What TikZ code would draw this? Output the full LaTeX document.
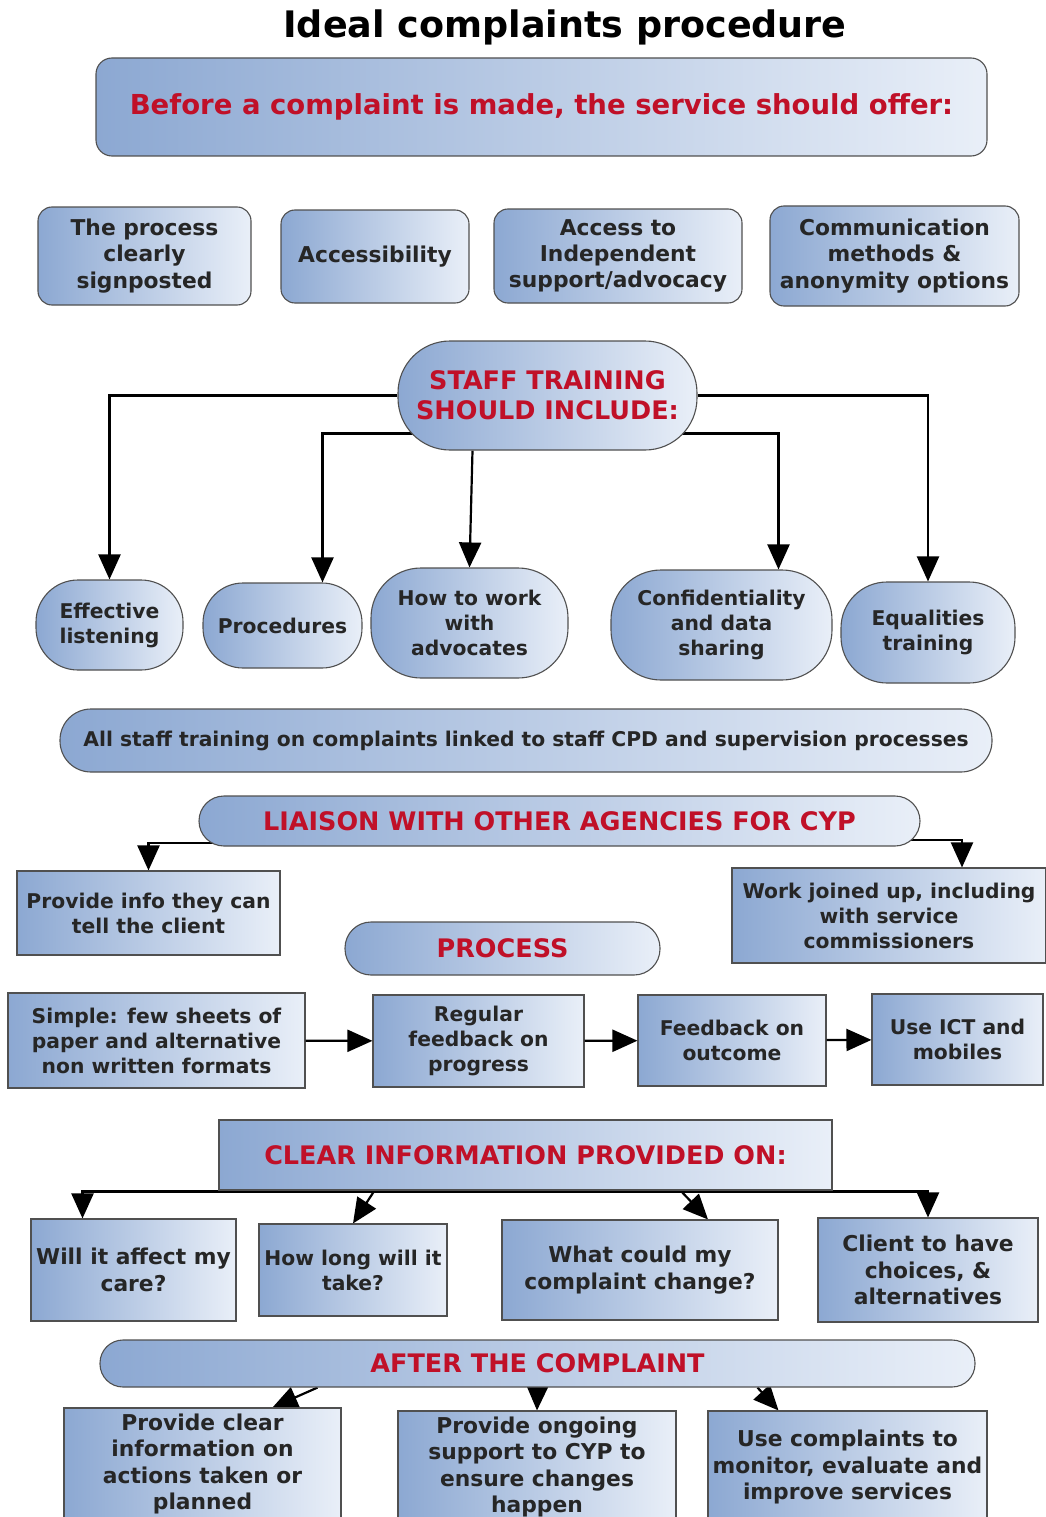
\documentclass[tikz,border=0pt]{standalone}
\usepackage{fontspec}
\setmainfont{DejaVu Sans}
\usepackage{xcolor}
\usetikzlibrary{arrows.meta,positioning,backgrounds}
\definecolor{boxL}{RGB}{140,168,210}
\definecolor{boxR}{RGB}{233,239,248}
\definecolor{headred}{RGB}{192,16,40}
\definecolor{edge}{RGB}{80,80,80}

\begin{document}
\begin{tikzpicture}[
  x=1pt, y=-1pt,
  base/.style={draw=edge, line width=1.1pt, left color=boxL, right color=boxR,
               align=center, inner sep=2pt, text=black!85,
               font=\fontsize{20.3}{25}\selectfont\bfseries},
  big/.style={font=\fontsize{21.8}{26.4}\selectfont\bfseries},
  rbox/.style={base, big, rounded corners=14pt},
  oval/.style={base, rounded corners=40pt},
  pill/.style={base, rounded corners=23pt},
  sbox/.style={base},
  head/.style={text=headred, font=\fontsize{25.5}{30}\selectfont\bfseries},
  arr/.style={-{Triangle[length=25pt,width=22pt]}, line width=2.2pt}
]
\useasboundingbox (0,0) rectangle (1046,1517);

% title and first block
\node[font=\fontsize{36.5}{42}\selectfont\bfseries] (title) at (565,27) {Ideal complaints procedure};
\node[rbox, head, font=\fontsize{27.5}{32}\selectfont\bfseries, minimum width=891pt, minimum height=98pt,
      rounded corners=16pt] (offer) at (541.5,107)
  {Before a complaint is made, the service should offer:};

\node[rbox, minimum width=213pt, minimum height=98pt] (signpost) at (144.5,256) {The process\\clearly\\signposted};
\node[rbox, minimum width=188pt, minimum height=93pt] (access) at (375,256.5) {Accessibility};
\node[rbox, minimum width=248pt, minimum height=94pt] (advocacy) at (618,256) {Access to\\Independent\\support/advocacy};
\node[rbox, minimum width=249pt, minimum height=100pt] (comms) at (894.5,256) {Communication\\methods \&\\anonymity options};

% staff training
\node[oval, head, minimum width=299pt, minimum height=109pt, rounded corners=52pt] (staff) at (547.5,395.5)
  {STAFF TRAINING\\SHOULD INCLUDE:};
\node[oval, minimum width=147pt, minimum height=90pt, rounded corners=42pt] (listen) at (109.5,625) {Effective\\listening};
\node[oval, minimum width=159pt, minimum height=85pt] (proc) at (282.5,625.5) {Procedures};
\node[oval, minimum width=197pt, minimum height=110pt, rounded corners=50pt] (advoc) at (469.5,623) {How to work\\with\\advocates};
\node[oval, minimum width=221pt, minimum height=110pt, rounded corners=50pt] (confid) at (721.5,625) {Confidentiality\\and data\\sharing};
\node[oval, minimum width=174pt, minimum height=101pt, rounded corners=46pt] (equal) at (928,632.5) {Equalities\\training};

\node[pill, minimum width=932pt, minimum height=63pt, rounded corners=31pt] (allstaff) at (526,740.5)
  {All staff training on complaints linked to staff CPD and supervision processes};

% liaison
\node[pill, head, minimum width=721pt, minimum height=50pt, rounded corners=25pt] (liaison) at (559.5,821)
  {LIAISON WITH OTHER AGENCIES FOR CYP};
\node[sbox, minimum width=263pt, minimum height=84pt] (info) at (148.5,913) {Provide info they can\\tell the client};
\node[sbox, minimum width=314pt, minimum height=95pt] (joined) at (889,915.5) {Work joined up, including\\with service\\commissioners};

% process
\node[pill, head, minimum width=315pt, minimum height=53pt, rounded corners=26pt] (process) at (502.5,948.5) {PROCESS};
\node[sbox, minimum width=297pt, minimum height=95pt] (simple) at (156.5,1040.5)
  {Simple: few sheets of\\paper and alternative\\non written formats};
\node[sbox, minimum width=211pt, minimum height=92pt] (regular) at (478.5,1041) {Regular\\feedback on\\progress};
\node[sbox, minimum width=188pt, minimum height=91pt] (feedback) at (732,1040.5) {Feedback on\\outcome};
\node[sbox, minimum width=171pt, minimum height=91pt] (ict) at (957.5,1039.5) {Use ICT and\\mobiles};

% clear information
\node[sbox, head, minimum width=613pt, minimum height=70pt] (clear) at (525.5,1155) {CLEAR INFORMATION PROVIDED ON:};
\node[sbox, big, minimum width=205pt, minimum height=102pt] (care) at (133.5,1270) {Will it affect my\\care?};
\node[sbox, minimum width=188pt, minimum height=92pt] (long) at (353,1270) {How long will it\\take?};
\node[sbox, big, minimum width=276pt, minimum height=100pt] (change) at (640,1270) {What could my\\complaint change?};
\node[sbox, big, minimum width=220pt, minimum height=104pt] (choice) at (928,1270) {Client to have\\choices, \&\\alternatives};

% after the complaint
\node[pill, head, minimum width=875pt, minimum height=47pt] (after) at (537.5,1363.5) {AFTER THE COMPLAINT};
\node[sbox, big, minimum width=277pt, minimum height=112pt] (actions) at (202.5,1464)
  {Provide clear\\information on\\actions taken or\\planned};
\node[sbox, big, minimum width=278pt, minimum height=112pt] (ongoing) at (537,1467)
  {Provide ongoing\\support to CYP to\\ensure changes\\happen};
\node[sbox, big, minimum width=279pt, minimum height=112pt] (monitor) at (847.5,1467)
  {Use complaints to\\monitor, evaluate and\\improve services};

\begin{scope}[on background layer]
\draw[arr] (staff.west) -| (listen.north);
\draw[arr] (staff.east) -| (equal.north);
\draw[arr] ([yshift=-38pt]staff.center) -| ([xshift=40pt]proc.north);
\draw[arr] ([yshift=-38pt]staff.center) -| ([xshift=57pt]confid.north);
\draw[arr] ([xshift=-75pt]staff.south) -- (advoc.north);

\draw[arr] ([yshift=-22pt]liaison.center) -| (info.north);
\draw[arr] ([yshift=-19pt]liaison.center) -| ([xshift=73pt]joined.north);

\draw[arr] ([yshift=-1pt]clear.south) -| ([xshift=-51pt]care.north);
\draw[arr] ([yshift=-1pt]clear.south) -| (choice.north);
\draw[arr] ([xshift=-151pt]clear.south) -- (long.north);
\draw[arr] ([xshift=155pt]clear.south) -- ([xshift=68pt]change.north);

\draw[arr] ([xshift=-220pt]after.south) -- ([xshift=70pt]actions.north);
\draw[arr] (after.south) -- (ongoing.north);
\draw[arr] ([xshift=220pt]after.south) -- ([xshift=-69pt]monitor.north);
\end{scope}
\draw[arr] (simple) -- (regular);
\draw[arr] (regular) -- (feedback);
\draw[arr] (feedback) -- (ict);
\end{tikzpicture}
\end{document}
